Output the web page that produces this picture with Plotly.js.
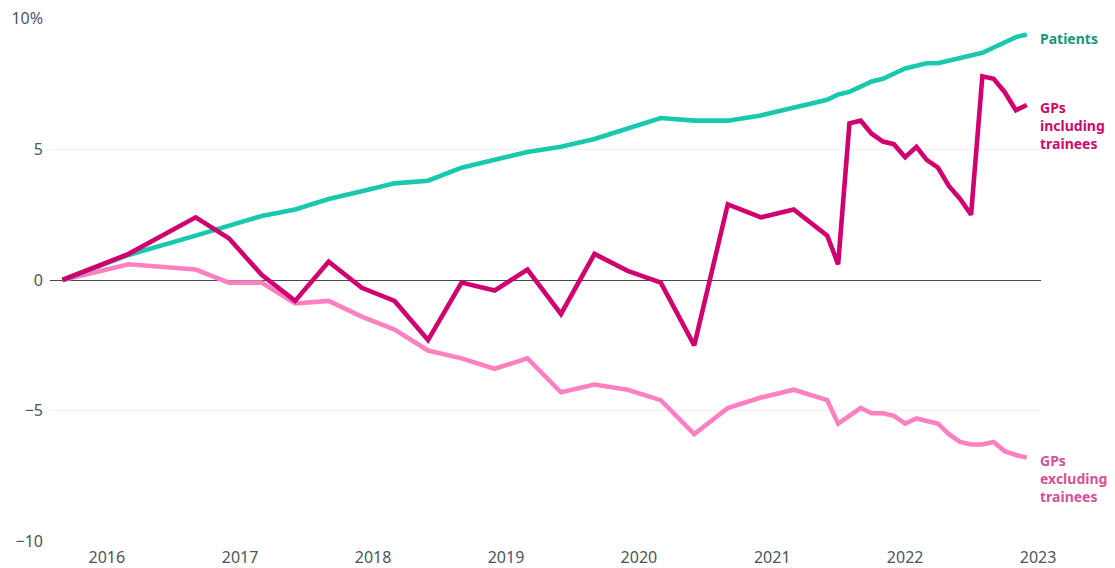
<!DOCTYPE html>
<html>
<head>
<meta charset="utf-8">
<script src="https://cdn.plot.ly/plotly-3.0.1.min.js"></script>
<style>html,body{margin:0;padding:0;background:#fff;}#chart{width:1115px;height:568px;}</style>
</head>
<body>
<div id="chart"></div>
<script>
// Dates: half-yearly to Sep 2016, quarterly to Jun 2021, then monthly
const dates = [
  '2015-09-01','2016-03-01','2016-09-01','2016-12-01',
  '2017-03-01','2017-06-01','2017-09-01','2017-12-01',
  '2018-03-01','2018-06-01','2018-09-01','2018-12-01',
  '2019-03-01','2019-06-01','2019-09-01','2019-12-01',
  '2020-03-01','2020-06-01','2020-09-01','2020-12-01',
  '2021-03-01','2021-06-01',
  '2021-07-01','2021-08-01','2021-09-01','2021-10-01','2021-11-01','2021-12-01',
  '2022-01-01','2022-02-01','2022-03-01','2022-04-01','2022-05-01','2022-06-01',
  '2022-07-01','2022-08-01','2022-09-01','2022-10-01','2022-11-01','2022-12-01'
];
const patients = [
  0, 0.96, 1.7, 2.1,
  2.45, 2.7, 3.1, 3.4,
  3.7, 3.8, 4.3, 4.6,
  4.9, 5.1, 5.4, 5.8,
  6.2, 6.1, 6.1, 6.3,
  6.6, 6.9,
  7.1, 7.2, 7.4, 7.6, 7.7, 7.9,
  8.1, 8.2, 8.3, 8.3, 8.4, 8.5,
  8.6, 8.7, 8.9, 9.1, 9.3, 9.4
];
const gpsIncl = [
  0, 1.0, 2.4, 1.6,
  0.2, -0.8, 0.7, -0.3,
  -0.8, -2.3, -0.1, -0.4,
  0.4, -1.3, 1.0, 0.35,
  -0.1, -2.5, 2.9, 2.4,
  2.7, 1.7,
  0.6, 6.0, 6.1, 5.6, 5.3, 5.2,
  4.7, 5.1, 4.6, 4.3, 3.6, 3.1,
  2.5, 7.8, 7.7, 7.2, 6.5, 6.7
];
const gpsExcl = [
  0, 0.6, 0.4, -0.1,
  -0.1, -0.9, -0.8, -1.4,
  -1.9, -2.7, -3.0, -3.4,
  -3.0, -4.3, -4.0, -4.2,
  -4.6, -5.9, -4.9, -4.5,
  -4.2, -4.6,
  -5.5, -5.2, -4.9, -5.1, -5.1, -5.2,
  -5.5, -5.3, -5.4, -5.5, -5.9, -6.2,
  -6.3, -6.3, -6.2, -6.55, -6.7, -6.8
];
const xTickVals = ['2016-01-01','2017-01-01','2018-01-01','2019-01-01','2020-01-01','2021-01-01','2022-01-01','2023-01-01'];
const xTickText = ['2016','2017','2018','2019','2020','2021','2022','2023'];
const yTickVals = [-10, -5, 0, 5, 10];
const yTickText = ['\u221210', '\u22125', '0', '5', '10%'];

const traces = [
  {x: dates, y: gpsExcl, type: 'scatter', mode: 'lines', name: 'GPs excluding trainees',
   line: {color: '#ff80c0', width: 4.6, shape: 'linear'}, hoverinfo: 'skip'},
  {x: dates, y: patients, type: 'scatter', mode: 'lines', name: 'Patients',
   line: {color: '#18c9ad', width: 4.6}, hoverinfo: 'skip'},
  {x: dates, y: gpsIncl, type: 'scatter', mode: 'lines', name: 'GPs including trainees',
   line: {color: '#d1006f', width: 4.6}, hoverinfo: 'skip'}
];

const last = dates.length - 1;
const layout = {
  width: 1115, height: 568,
  margin: {l: 50, r: 74, t: 18, b: 26, pad: 0},
  paper_bgcolor: '#ffffff', plot_bgcolor: '#ffffff',
  showlegend: false,
  font: {family: 'Noto Sans, Open Sans, sans-serif', size: 16, color: '#4d555b'},
  xaxis: {
    type: 'date', range: ['2015-07-29', '2023-01-09'],
    tickvals: xTickVals, ticktext: xTickText,
    showgrid: false, zeroline: false, showline: false, ticks: '',
    ticklabelstandoff: 4,
    tickfont: {size: 16, color: '#4d555b'}, fixedrange: true
  },
  yaxis: {
    range: [-10.03, 10.03],
    tickvals: yTickVals, ticktext: yTickText,
    showgrid: true, gridcolor: '#f0f0f0', gridwidth: 1,
    zeroline: true, zerolinecolor: '#3e4a52', zerolinewidth: 1,
    showline: false, ticks: '', ticklabelstandoff: 6,
    tickfont: {size: 16, color: '#4d555b'}, fixedrange: true
  },
  annotations: [
    {xref: 'paper', x: 1, xanchor: 'left', xshift: -3, y: patients[last], yref: 'y', yanchor: 'middle', yshift: -4,
     text: '<b>Patients</b>', showarrow: false, align: 'left',
     font: {family: 'Noto Sans, sans-serif', size: 14, color: '#16967f'}},
    {xref: 'paper', x: 1, xanchor: 'left', xshift: -3, y: gpsIncl[last], yref: 'y', yanchor: 'top', yshift: 9,
     text: '<b>GPs<br>including<br>trainees</b>', showarrow: false, align: 'left',
     font: {family: 'Noto Sans, sans-serif', size: 14, color: '#cc0a6e'}},
    {xref: 'paper', x: 1, xanchor: 'left', xshift: -3, y: gpsExcl[last], yref: 'y', yanchor: 'top', yshift: 9,
     text: '<b>GPs<br>excluding<br>trainees</b>', showarrow: false, align: 'left',
     font: {family: 'Noto Sans, sans-serif', size: 14, color: '#d4529a'}}
  ]
};

Plotly.newPlot('chart', traces, layout, {displayModeBar: false, staticPlot: true});
</script>
</body>
</html>
